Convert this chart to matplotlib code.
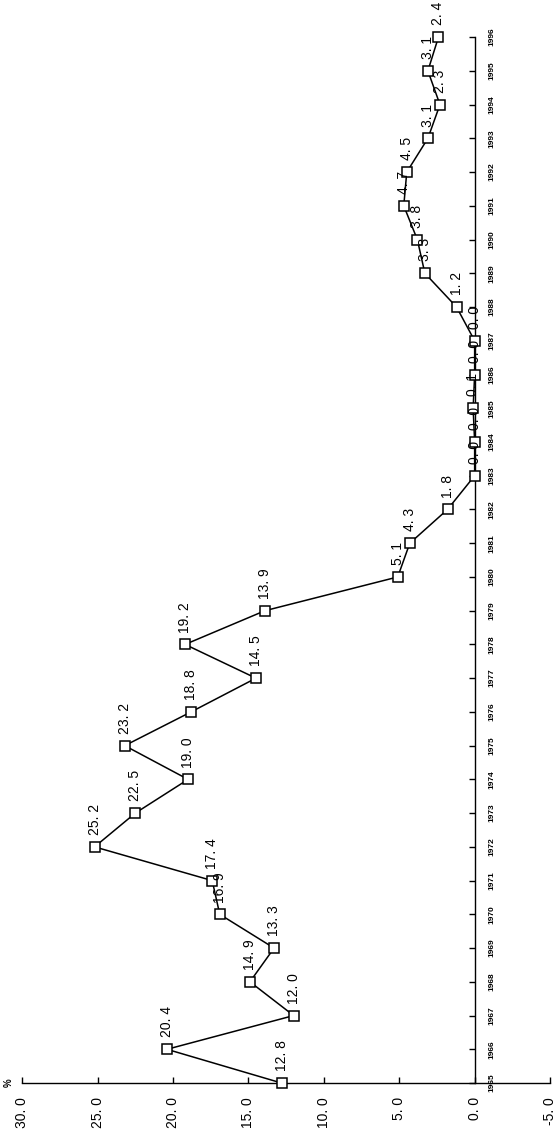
import numpy as np
import matplotlib
matplotlib.use('Agg')
import matplotlib.pyplot as plt

# =============================================================================
# DATA  (annual rate, %)
# =============================================================================
years = [1965, 1966, 1967, 1968, 1969, 1970, 1971, 1972, 1973, 1974, 1975,
         1976, 1977, 1978, 1979, 1980, 1981, 1982, 1983, 1984, 1985, 1986,
         1987, 1988, 1989, 1990, 1991, 1992, 1993, 1994, 1995, 1996]
values = [12.8, 20.4, 12.0, 14.9, 13.3, 16.9, 17.4, 25.2, 22.5, 19.0, 23.2,
          18.8, 14.5, 19.2, 13.9, 5.1, 4.3, 1.8, 0.0, 0.0, 0.1, 0.0,
          0.0, 1.2, 3.3, 3.8, 4.7, 4.5, 3.1, 2.3, 3.1, 2.4]
value_ticks = [30, 25, 20, 15, 10, 5, 0, -5]

plt.rcParams['font.family'] = ['Liberation Sans', 'DejaVu Sans']

# =============================================================================
# FIGURE  (chart is drawn turned 90 deg: values run right-to-left, years upward)
# =============================================================================
fig = plt.figure(figsize=(5.57, 11.35), dpi=100)
ax = fig.add_axes([0, 0, 1, 1])
ax.set_xlim(31.47, -5.46)
ax.set_ylim(1963.46, 1997.10)

ax.plot(values, years, '-', color='black', lw=1.1, zorder=2)
ax.plot(values, years, 's', ms=6.5, mfc='white', mec='black', mew=1.1, zorder=3)

for v, y in zip(values, years):
    ax.annotate(f"{v:.1f}".replace('.', '. '), (v, y), xytext=(0, 8.5),
                textcoords='offset points', rotation=90, ha='center', va='bottom',
                fontsize=10, color='black', zorder=4)

# --- axes lines ---
for s in ['top', 'left']:
    ax.spines[s].set_visible(False)
ax.spines['bottom'].set_position(('data', 1965))
ax.spines['bottom'].set_bounds(-5, 30)
ax.spines['right'].set_position(('data', 0))
ax.spines['right'].set_bounds(1965, 1996)
for s in ['bottom', 'right']:
    ax.spines[s].set_linewidth(1.0)

ax.yaxis.tick_right()
ax.set_xticks(value_ticks)
ax.set_xticklabels([f"{t:.1f}".replace('.', '. ') for t in value_ticks])
ax.set_yticks(years)
ax.set_yticklabels([str(y) for y in years])

ax.tick_params(axis='x', direction='in', length=4, width=1, pad=10,
               labelsize=10, labelrotation=90)
ax.tick_params(axis='y', direction='in', length=4, width=1, pad=10,
               labelsize=6, labelrotation=90)
for lab in ax.get_yticklabels():
    lab.set_va('center')
    lab.set_fontweight('bold')

ax.annotate('%', (30, 1965), xytext=(-10, 0), textcoords='offset points',
            rotation=90, ha='center', va='center', fontsize=7, fontweight='bold')

fig.savefig('out.png', dpi=100, facecolor='white')
